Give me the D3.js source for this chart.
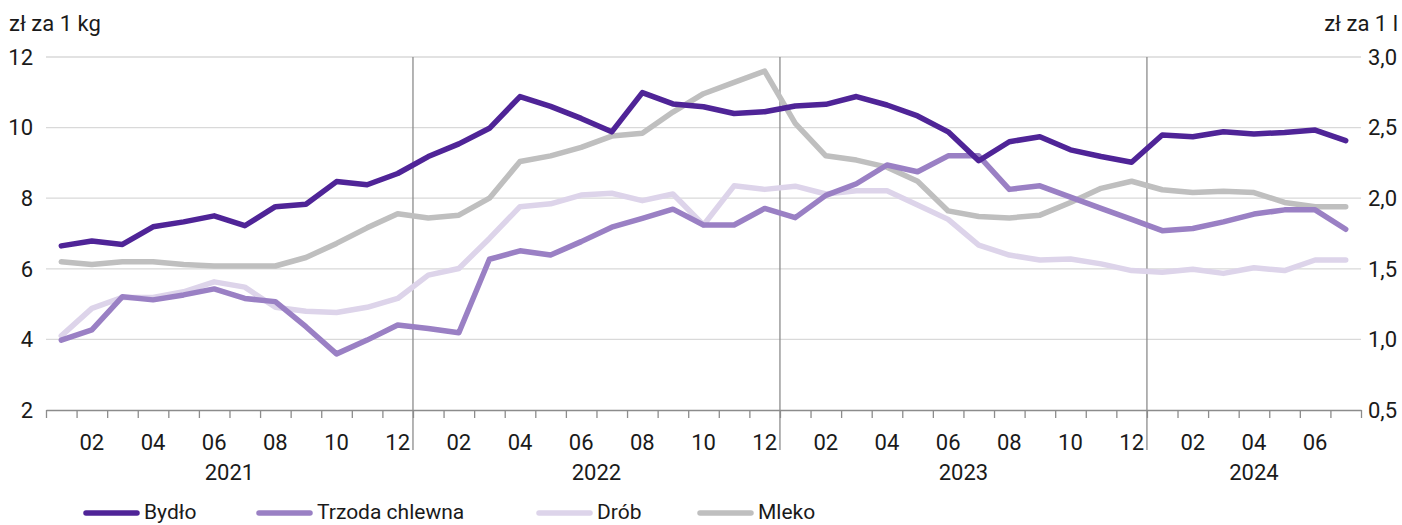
<!DOCTYPE html>
<html>
<head>
<meta charset="utf-8">
<script src="https://cdn.jsdelivr.net/npm/d3@7"></script>
<style>
body { margin: 0; background: #fff; }
text { font-family: Roboto, "Noto Sans", sans-serif; fill: #1a1a1a; }
</style>
</head>
<body>
<div id="chart"></div>
<script>
var width = 1402, height = 525;

// months Jan 2021 .. Jul 2024
var years = ["2021", "2022", "2023", "2024"];
var monthsPerYear = [12, 12, 12, 7];
var monthLabels = ["", "02", "", "04", "", "06", "", "08", "", "10", "", "12"];

// zł / kg (left axis)
var bydlo = [6.65, 6.79, 6.69, 7.19, 7.33, 7.50, 7.22, 7.76, 7.83, 8.47, 8.38, 8.70,
             9.18, 9.54, 9.98, 10.88, 10.60, 10.26, 9.88, 10.99, 10.67, 10.59, 10.40, 10.45,
             10.61, 10.66, 10.88, 10.64, 10.33, 9.88, 9.06, 9.60, 9.74, 9.37, 9.18, 9.02,
             9.79, 9.74, 9.88, 9.82, 9.86, 9.93, 9.63];
var trzoda = [3.98, 4.27, 5.21, 5.12, 5.26, 5.43, 5.16, 5.07, 4.36, 3.59, 3.98, 4.41,
              4.31, 4.19, 6.27, 6.51, 6.39, 6.77, 7.18, 7.43, 7.69, 7.24, 7.24, 7.71,
              7.45, 8.08, 8.41, 8.94, 8.75, 9.20, 9.20, 8.25, 8.35, 8.03, 7.71, 7.40,
              7.08, 7.14, 7.33, 7.55, 7.67, 7.67, 7.12];
var drob = [4.10, 4.88, 5.19, 5.19, 5.35, 5.63, 5.48, 4.91, 4.80, 4.76, 4.91, 5.16,
            5.82, 6.01, 6.86, 7.76, 7.84, 8.09, 8.14, 7.93, 8.12, 7.24, 8.35, 8.25,
            8.34, 8.12, 8.21, 8.21, 7.81, 7.40, 6.67, 6.39, 6.25, 6.28, 6.14, 5.95,
            5.90, 5.99, 5.87, 6.03, 5.95, 6.25, 6.25];
// zł / l (right axis)
var mleko = [1.55, 1.53, 1.55, 1.55, 1.53, 1.52, 1.52, 1.52, 1.58, 1.68, 1.79, 1.89,
             1.86, 1.88, 2.00, 2.26, 2.30, 2.36, 2.44, 2.46, 2.61, 2.74, 2.82, 2.90,
             2.53, 2.30, 2.27, 2.22, 2.12, 1.91, 1.87, 1.86, 1.88, 1.97, 2.07, 2.12,
             2.06, 2.04, 2.05, 2.04, 1.97, 1.94, 1.94];

var leftTicks = [2, 4, 6, 8, 10, 12];
var rightTicks = [0.5, 1.0, 1.5, 2.0, 2.5, 3.0];

var series = [
    { name: "Bydło", values: bydlo, axis: "left", color: "#4f2497" },
    { name: "Trzoda chlewna", values: trzoda, axis: "left", color: "#9a80c4" },
    { name: "Drób", values: drob, axis: "left", color: "#ddd4ea" },
    { name: "Mleko", values: mleko, axis: "right", color: "#bfbfbf" }
];

var nMonths = d3.sum(monthsPerYear);
var x0 = 46, x1 = 1361, yTop = 57, yBot = 410;
var fs = "22px";

var x = d3.scaleLinear().domain([0, nMonths]).range([x0, x1]);
var yL = d3.scaleLinear().domain([2, 12]).range([yBot, yTop]);
var yR = d3.scaleLinear().domain([0.5, 3.0]).range([yBot, yTop]);

var svg = d3.select("#chart").append("svg")
    .attr("width", width).attr("height", height);

// gridlines
svg.append("g").selectAll("line")
    .data(leftTicks.slice(1))
    .enter().append("line")
    .attr("x1", x0).attr("x2", x1)
    .attr("y1", d => yL(d)).attr("y2", d => yL(d))
    .attr("stroke", "#d9d9d9").attr("stroke-width", 1.3);

// left axis labels
svg.append("g").selectAll("text")
    .data(leftTicks)
    .enter().append("text")
    .attr("x", 33).attr("y", d => yL(d))
    .attr("dy", "0.35em")
    .attr("text-anchor", "end")
    .style("font-size", fs)
    .text(d => d);

// right axis labels
var fmtR = d => d3.format(".1f")(d).replace(".", ",");
svg.append("g").selectAll("text")
    .data(rightTicks)
    .enter().append("text")
    .attr("x", 1368).attr("y", d => yR(d))
    .attr("dy", "0.35em")
    .attr("text-anchor", "start")
    .style("font-size", fs)
    .text(fmtR);

svg.append("text").attr("x", 9).attr("y", 31)
    .style("font-size", fs).text("zł za 1 kg");
svg.append("text").attr("x", 1398).attr("y", 31)
    .attr("text-anchor", "end")
    .style("font-size", fs).text("zł za 1 l");

// x axis with month boundary ticks
var xAxis = d3.axisBottom(x)
    .tickValues(d3.range(0, nMonths + 1))
    .tickFormat("")
    .tickSize(8)
    .tickSizeOuter(0);
var gx = svg.append("g").attr("transform", "translate(0," + yBot + ")").call(xAxis);
gx.select(".domain").attr("stroke", "#8c8c8c").attr("stroke-width", 1.3);
gx.selectAll(".tick line").attr("stroke", "#8c8c8c").attr("stroke-width", 1.3);

// year separators
var starts = [];
var acc = 0;
monthsPerYear.forEach(m => { starts.push(acc); acc += m; });
svg.append("g").selectAll("line")
    .data(starts.slice(1))
    .enter().append("line")
    .attr("x1", d => x(d)).attr("x2", d => x(d))
    .attr("y1", yTop).attr("y2", 450)
    .attr("stroke", "#8c8c8c").attr("stroke-width", 1.3);

// month labels
var mlab = [];
years.forEach((yr, yi) => {
    for (var m = 0; m < monthsPerYear[yi]; m++) {
        if (monthLabels[m]) mlab.push({ i: starts[yi] + m, t: monthLabels[m] });
    }
});
svg.append("g").selectAll("text")
    .data(mlab)
    .enter().append("text")
    .attr("x", d => x(d.i + 0.5)).attr("y", 442)
    .attr("dy", "0.35em")
    .attr("text-anchor", "middle")
    .style("font-size", fs)
    .text(d => d.t);

// year labels
svg.append("g").selectAll("text")
    .data(years)
    .enter().append("text")
    .attr("x", (d, i) => x(starts[i] + monthsPerYear[i] / 2)).attr("y", 472)
    .attr("dy", "0.35em")
    .attr("text-anchor", "middle")
    .style("font-size", fs)
    .text(d => d);

// series lines (Mleko drawn first, under the others)
var order = [3, 2, 1, 0];
order.forEach(k => {
    var s = series[k];
    var ys = s.axis === "left" ? yL : yR;
    var line = d3.line()
        .x((d, i) => x(i + 0.5))
        .y(d => ys(d));
    svg.append("path")
        .datum(s.values)
        .attr("d", line)
        .attr("fill", "none")
        .attr("stroke", s.color)
        .attr("stroke-width", 5.5)
        .attr("stroke-linejoin", "round")
        .attr("stroke-linecap", "round");
});

// legend
var legendX = [86, 259, 539, 700];
var lg = svg.append("g").selectAll("g")
    .data(series)
    .enter().append("g")
    .attr("transform", (d, i) => "translate(" + legendX[i] + ",513)");
lg.append("line")
    .attr("x1", 0).attr("x2", 51)
    .attr("stroke", d => d.color)
    .attr("stroke-width", 5.5)
    .attr("stroke-linecap", "round");
lg.append("text")
    .attr("x", 58).attr("y", 6)
    .style("font-size", "21px")
    .text(d => d.name);
</script>
</body>
</html>
